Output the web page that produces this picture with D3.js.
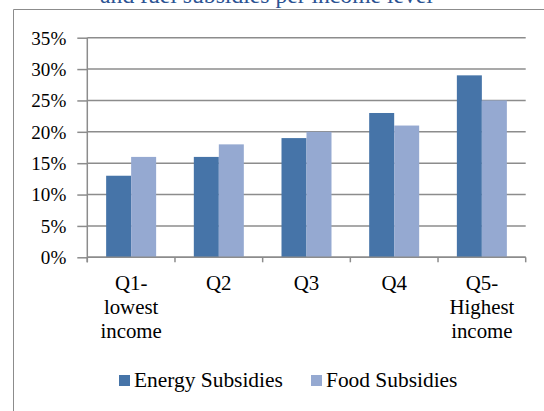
<!DOCTYPE html>
<html><head><meta charset="utf-8">
<script src="https://cdn.jsdelivr.net/npm/d3@7"></script>
<style>html,body{margin:0;padding:0;background:#fff;overflow:hidden}</style>
</head><body>
<script>
const categories = [["Q1-","lowest","income"],["Q2"],["Q3"],["Q4"],["Q5-","Highest","income"]];
const seriesNames = ["Energy Subsidies","Food Subsidies"];
const energy = [13,16,19,23,29];
const food = [16,18,20,21,25];
const yTicks = [0,5,10,15,20,25,30,35];
const colors = ["#4674A8","#95A9D1"];
const title = "and fuel subsidies per income level";

const W=544,H=411;
const svg=d3.select("body").append("svg").attr("width",W).attr("height",H);
const font="'Liberation Serif','Times New Roman',serif";

// font size fitted so a sample string has the reference's pixel width
function fit(sample,target){
  const t=svg.append("text").attr("font-family",font).attr("font-size",20).text(sample);
  const w=t.node().getComputedTextLength(); t.remove();
  return 20*target/w;
}
const fsTitle=fit(title,333), fsY=fit("30%",35), fsX=fit("Highest",65), fsLeg=fit("Energy Subsidies",149);

// frame
svg.append("path").attr("d","M13.5,411 V9.5 H544").attr("fill","none").attr("stroke","#8c8c8c").attr("stroke-width",1);

svg.append("text").attr("x",266.5).attr("y",3).attr("text-anchor","middle")
  .attr("font-family",font).attr("font-size",fsTitle).attr("fill","#2B5393").text(title);

const x0=87.3,x1=525.7,yTop=37.7,yBot=257.3;
const x=d3.scaleBand().domain(d3.range(categories.length)).range([x0,x1]).paddingInner(0).paddingOuter(0);
const y=d3.scaleLinear().domain([0,35]).range([yBot,yTop]);
const bw=25;

// gridlines + left ticks
const yAxis=d3.axisLeft(y).tickValues(yTicks).tickFormat(d=>d+"%").tickSize(10).tickPadding(11);
const gy=svg.append("g").attr("transform",`translate(${x0},0)`).call(yAxis);
gy.select(".domain").remove();
gy.selectAll(".tick line").attr("stroke","#8c8c8c").attr("stroke-width",1.5);
gy.selectAll(".tick text").attr("font-family",font).attr("font-size",fsY).attr("fill","#000").attr("dy","0.33em");
svg.append("g").selectAll("line").data(yTicks).join("line")
  .attr("x1",x0).attr("x2",x1).attr("y1",d=>y(d)).attr("y2",d=>y(d))
  .attr("stroke","#8c8c8c").attr("stroke-width",1.5);
svg.append("line").attr("x1",x0).attr("x2",x0).attr("y1",yTop).attr("y2",yBot+5).attr("stroke","#8c8c8c").attr("stroke-width",1.5);

// bars
const series=[energy,food];
series.forEach((vals,si)=>{
  svg.append("g").selectAll("rect").data(vals).join("rect")
    .attr("x",(d,i)=>x(i)+x.bandwidth()/2-bw+si*bw)
    .attr("y",d=>y(d)).attr("width",bw).attr("height",d=>yBot-y(d))
    .attr("fill",colors[si]);
});

// x axis
const bounds=d3.range(categories.length+1).map(i=>x0+i*x.bandwidth());
svg.append("line").attr("x1",x0).attr("x2",x1).attr("y1",yBot).attr("y2",yBot).attr("stroke","#8c8c8c").attr("stroke-width",1.5);
svg.append("g").selectAll("line").data(bounds).join("line")
  .attr("x1",d=>d).attr("x2",d=>d).attr("y1",yBot).attr("y2",yBot+5)
  .attr("stroke","#8c8c8c").attr("stroke-width",1.5);
const xl=svg.append("g").selectAll("text").data(categories).join("text")
  .attr("x",(d,i)=>x(i)+x.bandwidth()/2).attr("y",290)
  .attr("text-anchor","middle").attr("font-family",font).attr("font-size",fsX).attr("fill","#000");
xl.each(function(lines){
  d3.select(this).selectAll("tspan").data(lines).join("tspan")
    .attr("x",d3.select(this).attr("x")).attr("dy",(d,i)=>i?24:0).text(d=>d);
});

// legend
const legX=[119,311];
seriesNames.forEach((n,i)=>{
  svg.append("rect").attr("x",legX[i]).attr("y",375).attr("width",11).attr("height",11).attr("fill",colors[i]);
  svg.append("text").attr("x",legX[i]+15).attr("y",387).attr("font-family",font).attr("font-size",fsLeg).attr("fill","#000").text(n);
});
</script>
</body></html>
